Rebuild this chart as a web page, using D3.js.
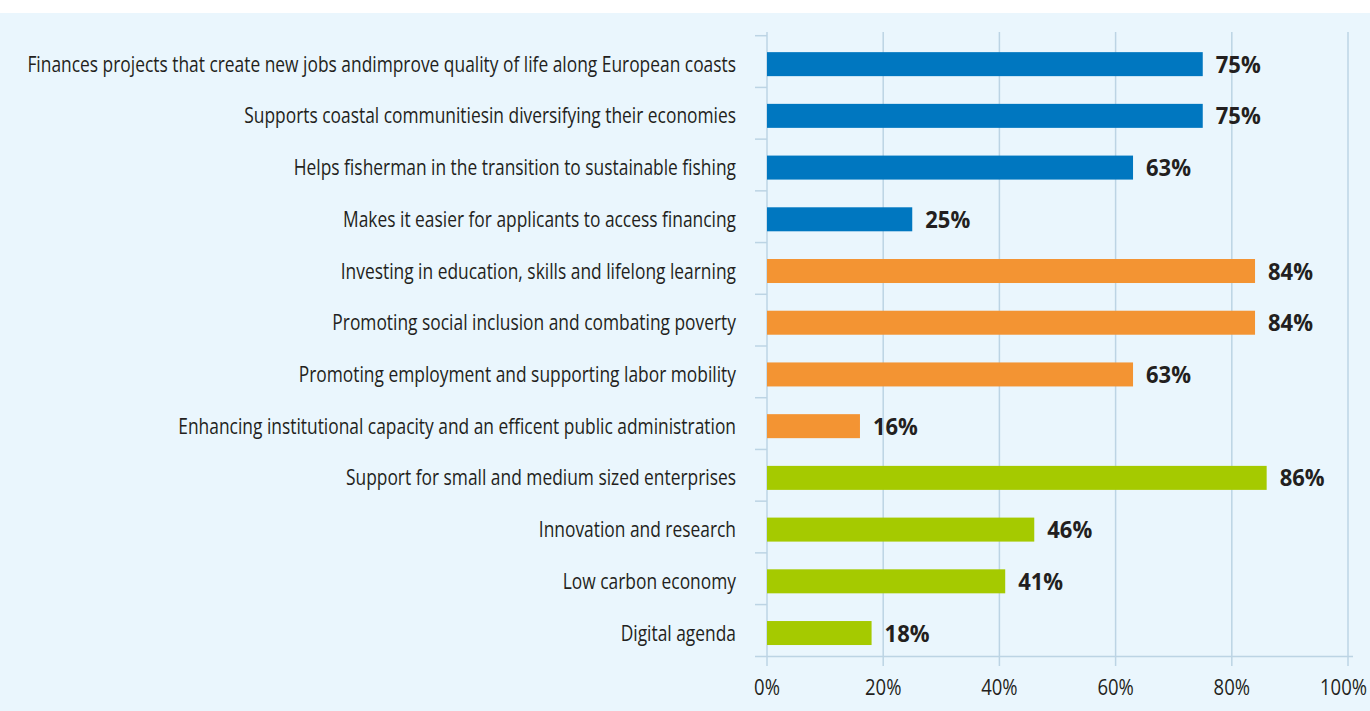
<!DOCTYPE html>
<html>
<head>
<meta charset="utf-8">
<script src="https://cdn.jsdelivr.net/npm/d3@7/dist/d3.min.js"></script>
<style>
  body { margin: 0; background: #fff; }
  svg { display: block; }
</style>
</head>
<body>
<svg id="chart" width="1370" height="711"></svg>
<script>
// chart data
var categories = [
  "Finances projects that create new jobs andimprove quality of life along European coasts",
  "Supports coastal communitiesin diversifying their economies",
  "Helps fisherman in the transition to sustainable fishing",
  "Makes it easier for applicants to access financing",
  "Investing in education, skills and lifelong learning",
  "Promoting social inclusion and combating poverty",
  "Promoting employment and supporting labor mobility",
  "Enhancing institutional capacity and an efficent public administration",
  "Support for small and medium sized enterprises",
  "Innovation and research",
  "Low carbon economy",
  "Digital agenda"
];
var values = [75, 75, 63, 25, 84, 84, 63, 16, 86, 46, 41, 18];
var groups = ["fund", "fund", "fund", "fund", "social", "social", "social", "social", "regional", "regional", "regional", "regional"];
var ticks = [0, 20, 40, 60, 80, 100];

var colors = { fund: "#0077c0", social: "#f39433", regional: "#a5ca00" };

var svg = d3.select("#chart");
var font = "'Open Sans', 'Noto Sans', sans-serif";
var textColor = "#231f20";

// the original uses a condensed face; squeeze a normal one horizontally
function squeeze(sel, target, sample) {
  var probe = svg.append("text")
    .attr("font-family", font)
    .attr("font-size", sel.attr("font-size"))
    .attr("font-weight", sel.attr("font-weight") || "normal")
    .text(sample);
  var k = target / probe.node().getComputedTextLength();
  probe.remove();
  return k;
}

// panel background
svg.append("rect")
  .attr("x", 0).attr("y", 13)
  .attr("width", 1370).attr("height", 698)
  .attr("fill", "#eaf6fd");

var x = d3.scaleLinear().domain([0, 100]).range([767, 1348]);
var y = d3.scaleBand().domain(categories).range([35.7, 656.3]);

// vertical grid lines
svg.append("g").selectAll("line")
  .data(ticks).enter().append("line")
  .attr("x1", function(d) { return x(d); })
  .attr("x2", function(d) { return x(d); })
  .attr("y1", 32).attr("y2", 666)
  .attr("stroke", "#bcd4e4").attr("stroke-width", 1.5);

// bottom axis line
svg.append("line")
  .attr("x1", 755).attr("x2", 1353)
  .attr("y1", 656.5).attr("y2", 656.5)
  .attr("stroke", "#bcd4e4").attr("stroke-width", 1.5);

// category tick marks on the left
svg.append("g").selectAll("line")
  .data(categories).enter().append("line")
  .attr("x1", 755).attr("x2", 767)
  .attr("y1", function(d) { return y(d); })
  .attr("y2", function(d) { return y(d); })
  .attr("stroke", "#bcd4e4").attr("stroke-width", 1.5);

var barH = 24;
function barY(i) { return y(categories[i]) + y.bandwidth() * 0.55 - barH / 2; }

// bars
svg.append("g").selectAll("rect")
  .data(values).enter().append("rect")
  .attr("x", x(0))
  .attr("y", function(d, i) { return barY(i); })
  .attr("width", function(d) { return x(d) - x(0); })
  .attr("height", barH)
  .attr("fill", function(d, i) { return colors[groups[i]]; });

// value labels
var valG = svg.append("g").attr("font-family", font).attr("font-weight", "bold").attr("font-size", 23);
var kVal = squeeze(valG, 45, "75%");
valG.selectAll("text")
  .data(values).enter().append("text")
  .attr("transform", function(d, i) {
    return "translate(" + (x(d) + 13) + "," + (barY(i) + barH / 2 + 8.5) + ") scale(" + kVal + ",1)";
  })
  .attr("fill", textColor)
  .text(function(d) { return d + "%"; });

// category labels
var catG = svg.append("g").attr("font-family", font).attr("font-size", 21);
var kCat = squeeze(catG, 709, categories[0]);
catG.selectAll("text")
  .data(categories).enter().append("text")
  .attr("transform", function(d, i) {
    return "translate(736," + (barY(i) + barH / 2 + 7.5) + ") scale(" + kCat + ",1)";
  })
  .attr("text-anchor", "end")
  .attr("fill", textColor)
  .text(function(d) { return d; });

// x tick labels; keep the last one inside the panel
var tickG = svg.append("g").attr("font-family", font).attr("font-size", 21);
var kTick = squeeze(tickG, 47, "100%");
tickG.selectAll("text")
  .data(ticks).enter().append("text")
  .attr("transform", function(d) {
    var cx = Math.min(x(d), 1367 - 47 / 2);
    return "translate(" + cx + ",695) scale(" + kTick + ",1)";
  })
  .attr("text-anchor", "middle")
  .attr("fill", textColor)
  .text(function(d) { return d + "%"; });
</script>
</body>
</html>
